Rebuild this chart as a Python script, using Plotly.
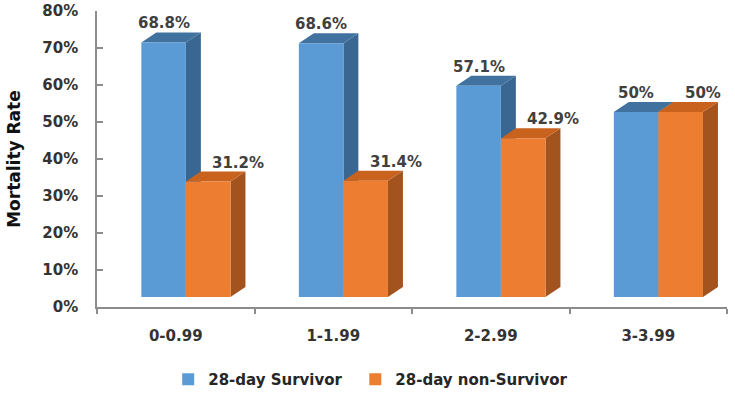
import plotly.graph_objects as go

categories = ["0-0.99", "1-1.99", "2-2.99", "3-3.99"]
survivor = [68.8, 68.6, 57.1, 50.0]
non_survivor = [31.2, 31.4, 42.9, 50.0]
survivor_labels = ["68.8%", "68.6%", "57.1%", "50%"]
non_survivor_labels = ["31.2%", "31.4%", "42.9%", "50%"]
series_names = ["28-day Survivor", "28-day non-Survivor"]
ytick_vals = [0, 10, 20, 30, 40, 50, 60, 70, 80]
ytick_text = ["0%", "10%", "20%", "30%", "40%", "50%", "60%", "70%", "80%"]

# 3D styling
FLOOR = 2.7          # visual floor lift (y units)
DX = 0.095           # depth offset in x units
DY = 2.7             # depth offset in y units
W = 0.283            # bar front width
OFF_B = -0.077       # blue bar center offset
OFF_O = OFF_B + W    # orange bar center offset

front = {"b": "#5B9BD5", "o": "#ED7D31"}
top_c = {"b": "#41729F", "o": "#C8621C"}
side_c = {"b": "#3A6692", "o": "#A3531D"}

xs = list(range(len(categories)))
fig = go.Figure()
fig.add_trace(go.Bar(x=[x + OFF_B for x in xs], y=survivor, base=[FLOOR] * 4, width=W,
                     marker=dict(color=front["b"], line=dict(width=0)), name=series_names[0],
                     legend="legend"))
fig.add_trace(go.Bar(x=[x + OFF_O for x in xs], y=non_survivor, base=[FLOOR] * 4, width=W,
                     marker=dict(color=front["o"], line=dict(width=0)), name=series_names[1],
                     legend="legend2"))

shapes = []
annotations = []
for i in xs:
    for key, vals, labels, off in (("b", survivor, survivor_labels, OFF_B),
                                   ("o", non_survivor, non_survivor_labels, OFF_O)):
        x0 = i + off - W / 2
        x1 = i + off + W / 2
        t = vals[i] + FLOOR
        b = FLOOR
        side = f"M {x1},{b} L {x1},{t} L {x1+DX},{t+DY} L {x1+DX},{b+DY} Z"
        topf = f"M {x0},{t} L {x1},{t} L {x1+DX},{t+DY} L {x0+DX},{t+DY} Z"
        shapes.append(dict(type="path", path=side, xref="x", yref="y", layer="below",
                           fillcolor=side_c[key], line=dict(width=0)))
        shapes.append(dict(type="path", path=topf, xref="x", yref="y", layer="below",
                           fillcolor=top_c[key], line=dict(width=0)))
        annotations.append(dict(x=i + off, y=t, xref="x", yref="y", text=labels[i],
                                showarrow=False, yshift=19,
                                xanchor="center" if key == "b" else "left",
                                xshift=0 if key == "b" else 2,
                                font=dict(family="DejaVu Sans", size=15, color="#404040", weight="bold")))

annotations.append(dict(x=-0.132, y=0.5, xref="paper", yref="paper", text="Mortality Rate",
                        textangle=-90, showarrow=False, xanchor="center", yanchor="middle",
                        font=dict(family="DejaVu Sans", size=17, color="#111111", weight="bold")))

legend_font = dict(family="DejaVu Sans", size=15, color="#262626", weight="bold")
tick_font = dict(family="DejaVu Sans", size=15, color="#333333", weight="bold")

fig.update_layout(
    width=735, height=398,
    margin=dict(l=97, r=8, t=11, b=91, autoexpand=False),
    paper_bgcolor="white", plot_bgcolor="white",
    barmode="overlay",
    shapes=shapes, annotations=annotations,
    showlegend=True,
    legend=dict(orientation="h", x=0.113, xanchor="left", y=-0.245, yanchor="middle",
                font=legend_font, itemwidth=30, bgcolor="rgba(0,0,0,0)"),
    legend2=dict(orientation="h", x=0.41, xanchor="left", y=-0.245, yanchor="middle",
                 font=legend_font, itemwidth=30, bgcolor="rgba(0,0,0,0)"),
    xaxis=dict(range=[-0.5, 3.5], tickvals=xs, ticktext=categories, ticks="",
               automargin=False,
               showline=True, linecolor="#8c8c8c", linewidth=1.5, showgrid=False, zeroline=False,
               ticklabelstandoff=14, tickfont=tick_font,
               minor=dict(tickvals=[-0.5, 0.5, 1.5, 2.5, 3.5], ticks="outside", ticklen=5,
                          tickcolor="#8c8c8c", tickwidth=1.5, showgrid=False)),
    yaxis=dict(range=[0, 80], tickvals=ytick_vals, ticktext=ytick_text, ticks="inside",
               automargin=False,
               ticklen=6, tickcolor="#8c8c8c", tickwidth=1.5,
               showline=True, linecolor="#8c8c8c", linewidth=1.5, showgrid=False, zeroline=False,
               ticklabelstandoff=14, tickfont=tick_font),
)

fig.write_html("out.html", config={"displayModeBar": False},
               post_script="document.body.style.margin='0';")
